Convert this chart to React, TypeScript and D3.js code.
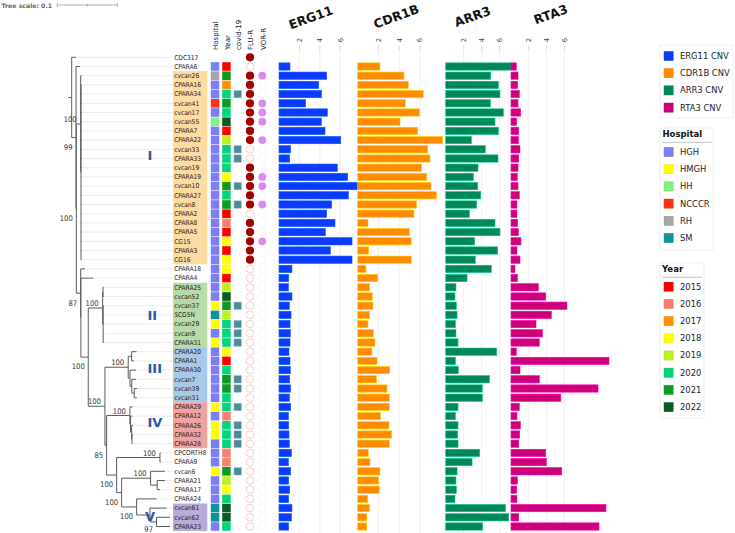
import React from 'react';
import * as d3 from 'd3';

// ---------- data ----------
const strains = [
  'CDC317', 'CPARA6', 'cvcan26', 'CPARA16', 'CPARA34', 'cvcan41', 'cvcan17', 'cvcan55', 'CPARA7', 'CPARA22',
  'cvcan33', 'CPARA33', 'cvcan19', 'CPARA19', 'cvcan10', 'CPARA27', 'cvcan8', 'CPARA2', 'CPARA8', 'CPARA5',
  'CG15', 'CPARA3', 'CG16', 'CPARA18', 'CPARA4', 'CPARA25', 'cvcan52', 'cvcan37', 'SCG5N', 'cvcan29',
  'cvcan9', 'CPARA31', 'CPARA20', 'CPARA1', 'CPARA30', 'cvcan7', 'cvcan39', 'cvcan31', 'CPARA29', 'CPARA12',
  'CPARA26', 'CPARA32', 'CPARA28', 'CPCORTH8', 'CPARA9', 'cvcan6', 'CPARA21', 'CPARA17', 'CPARA24', 'cvcan61',
  'cvcan62', 'CPARA23',
];

// Maximum-likelihood tree (branch lengths in substitutions/site, bootstrap on internal nodes)
const treeNewick = `
(CDC317:0.0072,
 (CPARA6:0.0067,
  ((cvcan26:0.0018,
    (CPARA16:0.0012,CPARA34:0.001,cvcan41:0.0014,cvcan17:0.001,cvcan55:0.0012,CPARA7:0.001,CPARA22:0.0015,
     cvcan33:0.0011,CPARA33:0.0011,cvcan19:0.001,CPARA19:0.0012,cvcan10:0.0013,CPARA27:0.001,cvcan8:0.0012,
     CPARA2:0.001,CPARA8:0.0011,CPARA5:0.001,CG15:0.0012,CPARA3:0.001,CG16:0.0011):0.0005)100:0.0073,
   (CPARA18:0.0072,
    (CPARA4:0.0207,
     (((CPARA25:0.001,cvcan52:0.0012):0.0006,
       (cvcan37:0.001,SCG5N:0.0012,cvcan29:0.001,cvcan9:0.001,CPARA31:0.0012):0.0008)100:0.024,
      (((CPARA20:0.0083,CPARA1:0.004):0.0057,
        (CPARA30:0.01,(cvcan7:0.007,(cvcan39:0.005,cvcan31:0.0045):0.004):0.003):0.003)100:0.0388,
       ((CPARA29:0.0045,(CPARA12:0.003,(CPARA26:0.0025,(CPARA32:0.0012,CPARA28:0.0012):0.0005):0.002):0.001)100:0.0388,
        ((CPCORTH8:0.0012,CPARA9:0.0012)100:0.0722,
         ((cvcan6:0.0238,(CPARA21:0.0128,CPARA17:0.0045):0.011)100:0.0483,
          (CPARA24:0.0333,
           (cvcan61:0.0278,(cvcan62:0.0222,CPARA23:0.0222)97:0.011):0.0222)100:0.025)100:0.0083)100:0.0167)85:0.0028)100:0.0278)100:0.0123):0.0003)87:0.0073)100:0.0005)99:0.0072);
`;

const cladeNames = ['I', 'II', 'III', 'IV', 'V'];
const cladeFirst = ['cvcan26', 'CPARA25', 'CPARA20', 'CPARA29', 'cvcan61'];
const cladeLast = ['CG16', 'CPARA31', 'cvcan31', 'CPARA28', 'CPARA23'];

const hospitalNames = ['HGH', 'HMGH', 'HH', 'NCCCR', 'RH', 'SM'];
const yearNames = ['2015', '2016', '2017', '2018', '2019', '2020', '2021', '2022'];

// per strain, in the order of `strains` (reference genome has no metadata)
const hospitals = [
  null, 'HGH', 'RH', 'HGH', 'HGH', 'NCCCR', 'HGH', 'HH', 'HGH', 'HGH',
  'HGH', 'HGH', 'HGH', 'HGH', 'HGH', 'HGH', 'HGH', 'HGH', 'HGH', 'HGH',
  'HGH', 'HGH', 'HGH', 'HGH', 'HGH', 'HGH', 'HGH', 'HMGH', 'SM', 'HMGH',
  'HGH', 'HMGH', 'HGH', 'HGH', 'HGH', 'HGH', 'HGH', 'HGH', 'HMGH', 'HGH',
  'HMGH', 'HMGH', 'HGH', 'HGH', 'HGH', 'HMGH', 'HGH', 'HGH', 'HGH', 'SM',
  'SM', 'HGH',
];
const years = [
  null, '2015', '2021', '2017', '2020', '2021', '2020', '2022', '2015', '2019',
  '2020', '2020', '2020', '2018', '2021', '2020', '2021', '2015', '2016', '2015',
  '2018', '2015', '2018', '2018', '2015', '2019', '2022', '2021', '2019', '2020',
  '2020', '2020', '2018', '2015', '2020', '2021', '2021', '2020', '2020', '2016',
  '2020', '2020', '2020', '2016', '2016', '2021', '2019', '2018', '2020', '2022',
  '2022', '2020',
];
const covidStrains = ['CPARA34', 'cvcan33', 'CPARA33', 'cvcan10', 'cvcan8', 'cvcan37', 'cvcan29', 'cvcan9',
  'CPARA31', 'cvcan7', 'cvcan39', 'CPARA29', 'CPARA26', 'CPARA32', 'CPARA28', 'cvcan6'];
const fluResistant = ['CDC317', 'cvcan26', 'CPARA16', 'CPARA34', 'cvcan41', 'cvcan17', 'cvcan55', 'CPARA7',
  'CPARA22', 'cvcan19', 'CPARA19', 'cvcan10', 'CPARA27', 'cvcan8', 'CPARA8', 'CPARA5', 'CG15', 'CPARA3', 'CG16'];
const vorResistant = ['cvcan26', 'cvcan41', 'cvcan17', 'cvcan55', 'CPARA22', 'CPARA19', 'cvcan10', 'cvcan8', 'CG15'];
const stripHeaders = ['Hospital', 'Year', 'covid-19', 'FLU-R', 'VOR-R'];

// copy number per clinical isolate (all strains except the CDC317 reference)
const genes = ['ERG11', 'CDR1B', 'ARR3', 'RTA3'];
const erg11 = [1.08, 4.67, 3.89, 4.18, 2.61, 4.74, 4.15, 4.51, 6.05, 1.14, 1.05, 5.72, 6.73, 7.78, 6.8, 5.16, 4.67,
  5.49, 4.54, 7.16, 5.03, 7.16, 1.27, 0.95, 0.92, 1.27, 1.01, 1.18, 1.08, 1.11, 1.08, 0.98, 1.08, 1.11, 1.05, 1.14,
  1.01, 1.14, 0.92, 0.95, 0.98, 1.01, 1.21, 0.92, 1.14, 0.95, 1.05, 0.95, 1.27, 1.21, 0.95];
const cdr1b = [2.14, 4.45, 4.87, 6.31, 4.58, 5.93, 4.07, 5.77, 8.17, 6.73, 6.95, 6.15, 6.63, 7.05, 7.56, 5.67, 5.41,
  0.99, 4.96, 5.15, 1.06, 5.15, 0.8, 1.92, 1.15, 1.4, 1.47, 1.15, 0.99, 1.5, 1.66, 1.37, 1.86, 3.08, 1.82, 2.82, 3.04,
  3.04, 2.18, 3.01, 3.27, 3.04, 1.02, 1.18, 2.14, 2.01, 2.08, 0.96, 1.12, 0.87, 0.87];
const arr3 = [7.26, 5.0, 5.85, 6.03, 4.96, 6.4, 5.48, 5.85, 2.85, 4.4, 5.81, 3.59, 3.07, 3.56, 3.89, 3.44, 2.63, 5.48,
  6.03, 3.22, 5.78, 3.29, 5.07, 2.37, 1.14, 1.03, 1.18, 1.26, 1.07, 1.14, 1.37, 5.67, 1.07, 1.4, 4.85, 4.07, 4.07,
  1.37, 1.07, 1.37, 1.33, 1.37, 3.78, 2.93, 1.26, 1.14, 1.18, 1.03, 6.63, 7.0, 4.11];
const rta3 = [0.6, 0.79, 0.75, 0.93, 0.79, 1.09, 0.64, 0.87, 0.82, 1.01, 0.87, 0.79, 0.71, 0.79, 0.93, 0.67, 0.67,
  0.75, 0.82, 1.12, 0.67, 1.01, 0.45, 0.71, 3.07, 3.9, 6.29, 4.53, 2.81, 3.52, 3.18, 0.6, 11.01, 1.01, 3.18, 9.78,
  5.6, 0.93, 0.67, 1.05, 0.98, 0.87, 3.9, 3.97, 5.7, 0.71, 0.64, 0.67, 10.67, 0.87, 9.89];
const geneTicks = [2, 4, 6];

// ---------- styles & layout ----------
const cladeFill = ['#fddca2', '#b7dca8', '#a8c9ea', '#f0a29e', '#b9aadc'];
const cladeTextColor = '#2c56a8';
const cladeLabelShift = [-1.3, 0, -0.65, -0.3, -0.15]; // in rows
const hospitalColors = ['#7d7df4', '#ffff00', '#7ff27f', '#ff3311', '#a6a6a6', '#0f9494'];
const yearColors = ['#ff0000', '#f7806f', '#ff9100', '#ffff00', '#bdf21f', '#00d47c', '#0a9d22', '#0b5b24'];
const geneColors = ['#0b3bff', '#ff8c00', '#00875a', '#cc0078'];
const covidColor = '#4d8a9a';
const fluColor = '#a30000';
const vorColor = '#d98cee';

const LAYOUT = {
  treeX0: 71.7,
  treeUnit: 60, // px per 0.1
  rowTop: 57.3,
  rowBottom: 526.5,
  labelX: 173,
  labelW: 34.3,
  hospitalX: 210.8,
  yearX: 222.2,
  covidX: 234,
  fluX: 250,
  vorX: 262.3,
  headerX: [217.8, 229.6, 240.8, 252.6, 265.6],
  headerY: 50,
};
const panels = [
  { x0: 279, unit: 10.2, titleX: 310.8, titleY: 17.5 },
  { x0: 357.7, unit: 10.4, titleX: 396.3, titleY: 16.5 },
  { x0: 445.7, unit: 9.0, titleX: 472.5, titleY: 16.5 },
  { x0: 511, unit: 8.9, titleX: 550.8, titleY: 14.5 },
];
const narrow = "'Liberation Sans Narrow', 'Arial Narrow', 'DejaVu Sans Condensed', sans-serif";
const sans = "'DejaVu Sans', Verdana, sans-serif";

// ---------- newick parsing ----------
type TreeNode = { name?: string; length: number; support?: number; children?: TreeNode[] };

function parseNewick(src: string): TreeNode {
  const s = src.replace(/\s+/g, '');
  let i = 0;
  const parseNode = (): TreeNode => {
    const node: TreeNode = { length: 0 };
    if (s[i] === '(') {
      i++;
      node.children = [];
      for (;;) {
        node.children.push(parseNode());
        if (s[i] === ',') { i++; continue; }
        if (s[i] === ')') { i++; break; }
        break;
      }
    }
    let label = '';
    while (i < s.length && !':,);'.includes(s[i])) label += s[i++];
    if (node.children) { if (label) node.support = +label; } else node.name = label;
    if (s[i] === ':') {
      i++;
      let num = '';
      while (i < s.length && !',);'.includes(s[i])) num += s[i++];
      node.length = +num;
    }
    return node;
  };
  return parseNode();
}

export default function App() {
  const W = 735;
  const H = 533;

  const xTree = d3.scaleLinear().domain([0, 0.1]).range([LAYOUT.treeX0, LAYOUT.treeX0 + LAYOUT.treeUnit]);
  const yRow = d3.scalePoint<string>().domain(strains).range([LAYOUT.rowTop, LAYOUT.rowBottom]);
  const step = yRow.step();

  const root: any = d3.hierarchy(parseNewick(treeNewick), (d: TreeNode) => d.children);
  root.eachBefore((n: any) => {
    n.dist = (n.parent ? n.parent.dist : 0) + n.data.length;
    n.px = xTree(n.dist);
  });
  root.eachAfter((n: any) => {
    if (n.children) n.py = (n.children[0].py + n.children[n.children.length - 1].py) / 2;
    else n.py = yRow(n.data.name) as number;
  });
  const nodes: any[] = root.descendants();
  const leaves: any[] = root.leaves();

  const branchColor = '#5a5a5a';
  const treeEls: React.ReactNode[] = [];
  // root stub
  treeEls.push(<line key="stub" x1={root.px - 3.4} x2={root.px} y1={root.py} y2={root.py} stroke={branchColor} strokeWidth={1} />);
  nodes.forEach((n, k) => {
    if (n.parent) {
      treeEls.push(<line key={`h${k}`} x1={n.parent.px} x2={n.px} y1={n.py} y2={n.py} stroke={branchColor} strokeWidth={1} />);
    }
    if (n.children) {
      const c = n.children;
      treeEls.push(<line key={`v${k}`} x1={n.px} x2={n.px} y1={c[0].py} y2={c[c.length - 1].py} stroke={branchColor} strokeWidth={1} />);
    }
  });

  // bootstrap labels
  const supportEls = nodes
    .filter((n) => n.children && n.data.support != null && n.parent)
    .map((n, k) => {
      const isFirst = n.parent.children[0] === n;
      const above = isFirst || n.data.length > 0.026;
      const y = above ? n.py - 2 : Math.min(n.py + 12.3, H - 1.2);
      return (
        <text key={`s${k}`} x={n.px - (above ? 4 : 3.5)} y={y}
          textAnchor="end" fontSize={7.6} fontFamily={narrow} fill="#333">{n.data.support}</text>
      );
    });

  const tickY0 = 45.5;
  const cnvStrains = strains.filter((s) => s !== 'CDC317');
  const geneValues = [erg11, cdr1b, arr3, rta3];

  const legendItem = (y: number, color: string, label: string, key: string) => (
    <g key={key}>
      <rect x={664} y={y - 4.6} width={9.2} height={9.2} fill={color} stroke={d3.color(color)!.darker(0.4).toString()} strokeWidth={0.4} />
      <text x={680} y={y} dy="0.35em" fontSize={8.4} fontFamily={sans} fill="#222">{label}</text>
    </g>
  );

  return (
    <svg width={W} height={H} style={{ position: 'absolute', left: 0, top: 0, background: '#fff' }}>
      {/* tree scale */}
      <g>
        <text x={1.5} y={7.6} fontSize={6.2} fontWeight="bold" fontFamily={sans} fill="#666">Tree scale: 0.1</text>
        {(() => {
          const x0 = 57.3;
          const len = xTree(0.1) - xTree(0);
          return (
            <g stroke="#9a9a9a" strokeWidth={0.8}>
              <line x1={x0} x2={x0 + len} y1={5} y2={5} />
              {[0, 0.5, 1].map((f) => (
                <line key={f} x1={x0 + f * len} x2={x0 + f * len} y1={f === 0.5 ? 3.8 : 3} y2={f === 0.5 ? 6.2 : 7} />
              ))}
            </g>
          );
        })()}
      </g>

      {/* clade label backgrounds */}
      {cladeNames.map((c, i) => {
        const y0 = (yRow(cladeFirst[i]) as number) - step / 2;
        const y1 = (yRow(cladeLast[i]) as number) + step / 2;
        return <rect key={c} x={LAYOUT.labelX} y={y0} width={LAYOUT.labelW} height={y1 - y0} fill={cladeFill[i]} />;
      })}

      {/* leader lines from tips to labels */}
      {leaves.map((n, k) => (
        <line key={`l${k}`} x1={n.px + 0.5} x2={LAYOUT.labelX} y1={n.py} y2={n.py} stroke="#e4e4e4" strokeWidth={0.7} />
      ))}

      {treeEls}
      {supportEls}

      {/* clade numerals */}
      {cladeNames.map((c, i) => {
        const ym = ((yRow(cladeFirst[i]) as number) + (yRow(cladeLast[i]) as number)) / 2 + cladeLabelShift[i] * step;
        return (
          <text key={`cn${c}`} x={c === 'V' ? 145 : 147.5} y={ym} dy="0.36em" fontSize={13} fontWeight="bold"
            fontFamily={sans} fill={cladeTextColor}>{c}</text>
        );
      })}

      {/* leaf labels */}
      {strains.map((s) => (
        <text key={`t${s}`} x={LAYOUT.labelX + 1.2} y={yRow(s)} dy="0.35em" fontSize={6.6} fontFamily={narrow} fill="#1a1a1a">{s}</text>
      ))}

      {/* metadata strips */}
      {stripHeaders.map((h, i) => (
        <text key={h} transform={`translate(${LAYOUT.headerX[i]},${LAYOUT.headerY}) rotate(-90)`} fontSize={7}
          fontFamily={sans} fill="#111">{h}</text>
      ))}
      {strains.map((s, i) => {
        const y = yRow(s) as number;
        const hosp = hospitals[i];
        const yr = years[i];
        const els: React.ReactNode[] = [];
        if (hosp) {
          els.push(<rect key="h" x={LAYOUT.hospitalX} y={y - 4.3} width={8.5} height={8.6}
            fill={hospitalColors[hospitalNames.indexOf(hosp)]} />);
        }
        if (yr) {
          els.push(<rect key="y" x={LAYOUT.yearX} y={y - 4.3} width={8.5} height={8.6}
            fill={yearColors[yearNames.indexOf(yr)]} />);
        }
        if (covidStrains.includes(s)) {
          els.push(<rect key="c" x={LAYOUT.covidX} y={y - 3.6} width={7.3} height={7.3} fill={covidColor}
            stroke="#8fb5bf" strokeWidth={0.5} />);
        }
        els.push(fluResistant.includes(s)
          ? <circle key="f" cx={LAYOUT.fluX} cy={y} r={4.1} fill={fluColor} />
          : <circle key="f" cx={LAYOUT.fluX} cy={y} r={3.8} fill="none" stroke="#f1b9b9" strokeWidth={0.7} />);
        els.push(vorResistant.includes(s)
          ? <circle key="v" cx={LAYOUT.vorX} cy={y} r={3.9} fill={vorColor} />
          : <circle key="v" cx={LAYOUT.vorX} cy={y} r={3.8} fill="none" stroke="#f5e6f8" strokeWidth={0.6} />);
        return <g key={`m${s}`}>{els}</g>;
      })}

      {/* CNV bar panels */}
      {genes.map((g, gi) => {
        const p = panels[gi];
        const x = d3.scaleLinear().domain([0, 1]).range([p.x0, p.x0 + p.unit]);
        const color = geneColors[gi];
        const edge = d3.color(color)!.brighter(1.1).toString();
        return (
          <g key={g}>
            {geneTicks.map((t) => (
              <g key={t}>
                <line x1={x(t)} x2={x(t)} y1={tickY0 + 4} y2={H} stroke="#ececec" strokeWidth={0.8} />
                <line x1={x(t)} x2={x(t)} y1={tickY0} y2={tickY0 + 4} stroke="#bdbdbd" strokeWidth={0.7} />
                <text transform={`translate(${x(t)},${40}) rotate(-90)`} textAnchor="middle" dy="0.35em"
                  fontSize={6.8} fontFamily={sans} fill="#444">{t}</text>
              </g>
            ))}
            {cnvStrains.map((s, i) => {
              const y = yRow(s) as number;
              return (
                <rect key={s} x={x(0)} y={y - 3.65} width={x(geneValues[gi][i]) - x(0)} height={7.3}
                  fill={color} stroke={edge} strokeWidth={0.6} />
              );
            })}
            <text transform={`translate(${p.titleX},${p.titleY}) rotate(-20)`} textAnchor="middle" dy="0.35em"
              fontSize={12.5} fontWeight="bold" fontFamily={sans} fill="#111">{g}</text>
          </g>
        );
      })}

      {/* legends */}
      <g>
        <rect x={660} y={45} width={73} height={73} fill="#fff" stroke="#ececec" strokeWidth={0.8} />
        {genes.map((g, i) => legendItem(56 + i * 17.2, geneColors[i], `${g} CNV`, `lg${g}`))}

        <rect x={660} y={128} width={53} height={122} fill="#fff" stroke="#ececec" strokeWidth={0.8} />
        <text x={662.5} y={137.4} fontSize={8.5} fontWeight="bold" fontFamily={sans} fill="#111">Hospital</text>
        <line x1={662.5} x2={711.5} y1={142.3} y2={142.3} stroke="#9a9a9a" strokeWidth={0.6} />
        {hospitalNames.map((h, i) => legendItem(152 + i * 17.2, hospitalColors[i], h, `lh${h}`))}

        <rect x={660} y={263} width={44} height={155} fill="#fff" stroke="#ececec" strokeWidth={0.8} />
        <text x={662} y={272.4} fontSize={8.5} fontWeight="bold" fontFamily={sans} fill="#111">Year</text>
        <line x1={662} x2={702} y1={277.3} y2={277.3} stroke="#9a9a9a" strokeWidth={0.6} />
        {yearNames.map((yv, i) => legendItem(286.7 + i * 17.2, yearColors[i], yv, `ly${yv}`))}
      </g>
    </svg>
  );
}
